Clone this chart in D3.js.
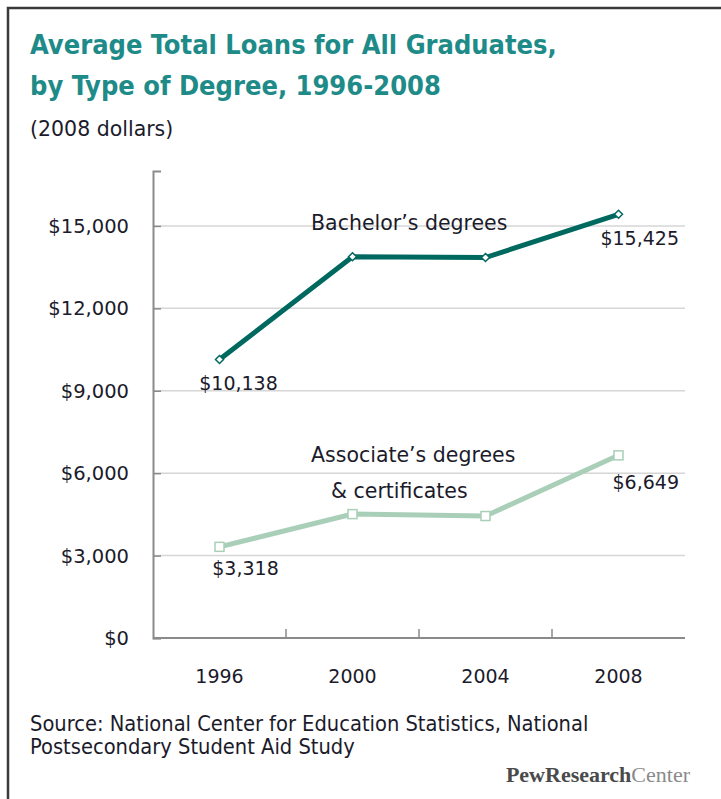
<!DOCTYPE html>
<html>
<head>
<meta charset="utf-8">
<script src="https://cdn.jsdelivr.net/npm/d3@7"></script>
<style>
  body { margin: 0; background: #fff; }
  svg { display: block; }
</style>
</head>
<body>
<div id="chart"></div>
<script>
// data
const years = ["1996", "2000", "2004", "2008"]
const bachelor = [10138, 13880, 13850, 15425]
const associate = [3318, 4510, 4440, 6649]
const yTicks = [0, 3000, 6000, 9000, 12000, 15000]
const titleLines = ["Average Total Loans for All Graduates,", "by Type of Degree, 1996-2008"]
const sourceLines = ["Source: National Center for Education Statistics, National", "Postsecondary Student Aid Study"]

const width = 721, height = 799
const svg = d3.select("#chart").append("svg")
    .attr("width", width)
    .attr("height", height)

const narrow = "'DejaVu Sans Condensed', 'Liberation Sans', sans-serif"
const body = "'DejaVu Sans', 'Noto Sans', sans-serif"
const ink = "#1b1b2b"

// frame (only top and left edges show)
svg.append("path")
    .attr("d", `M8,${height} L8,8 L${width},8`)
    .attr("fill", "none")
    .attr("stroke", "#3a3a3a")
    .attr("stroke-width", 2.5)

// title
svg.append("g").selectAll("text")
    .data(titleLines)
    .enter().append("text")
    .attr("x", 30)
    .attr("y", (d, i) => 54 + i * 41)
    .attr("fill", "#1e8b89")
    .attr("font-family", narrow)
    .attr("font-weight", "bold")
    .attr("font-size", 27)
    .text(d => d)

svg.append("text")
    .attr("x", 30).attr("y", 136)
    .attr("fill", ink)
    .attr("font-family", body)
    .attr("font-size", 20.5)
    .text("(2008 dollars)")

// scales
const x = d3.scaleBand().domain(years).range([153, 685])
const y = d3.scaleLinear().domain([0, 17000]).range([638, 171])
const cx = d => x(d) + x.bandwidth() / 2

// grid lines
svg.append("g").selectAll("line")
    .data(yTicks.filter(d => d > 0))
    .enter().append("line")
    .attr("x1", 153).attr("x2", 685)
    .attr("y1", d => y(d)).attr("y2", d => y(d))
    .attr("stroke", "#d6d6d6")
    .attr("stroke-width", 1.5)

// y axis
const yAxis = svg.append("g")
    .attr("transform", "translate(153,0)")
    .call(d3.axisRight(y).tickValues(yTicks).tickSize(8).tickFormat(""))
yAxis.select(".domain").attr("stroke", "#8a8a8a").attr("stroke-width", 2)
yAxis.selectAll(".tick line").attr("stroke", "#8a8a8a").attr("stroke-width", 1.5)

svg.append("g").selectAll("text")
    .data(yTicks)
    .enter().append("text")
    .attr("x", 129)
    .attr("y", d => y(d) + 7)
    .attr("text-anchor", "end")
    .attr("fill", ink)
    .attr("font-family", body)
    .attr("font-size", 19.5)
    .text(d => "$" + d3.format(",")(d))

// x axis
svg.append("line")
    .attr("x1", 153).attr("x2", 685)
    .attr("y1", y(0)).attr("y2", y(0))
    .attr("stroke", "#8a8a8a")
    .attr("stroke-width", 2)
svg.append("g").selectAll("line")
    .data(years.slice(1))
    .enter().append("line")
    .attr("x1", d => x(d)).attr("x2", d => x(d))
    .attr("y1", y(0)).attr("y2", y(0) - 9)
    .attr("stroke", "#8a8a8a")
    .attr("stroke-width", 1.5)

svg.append("g").selectAll("text")
    .data(years)
    .enter().append("text")
    .attr("x", d => cx(d))
    .attr("y", 683)
    .attr("text-anchor", "middle")
    .attr("fill", ink)
    .attr("font-family", body)
    .attr("font-size", 19)
    .text(d => d)

// lines
const line = d3.line()
    .x((d, i) => cx(years[i]))
    .y(d => y(d))

svg.append("path")
    .datum(associate)
    .attr("d", line)
    .attr("fill", "none")
    .attr("stroke", "#a9cfb9")
    .attr("stroke-width", 5)

svg.append("path")
    .datum(bachelor)
    .attr("d", line)
    .attr("fill", "none")
    .attr("stroke", "#00695f")
    .attr("stroke-width", 5)

// markers
svg.append("g").selectAll("rect")
    .data(associate)
    .enter().append("rect")
    .attr("x", (d, i) => cx(years[i]) - 4.5)
    .attr("y", d => y(d) - 4.5)
    .attr("width", 9).attr("height", 9)
    .attr("fill", "#fff")
    .attr("stroke", "#a9cfb9")
    .attr("stroke-width", 1.5)

svg.append("g").selectAll("path")
    .data(bachelor)
    .enter().append("path")
    .attr("transform", (d, i) => `translate(${cx(years[i])},${y(d)})`)
    .attr("d", "M0,-4 L4,0 L0,4 L-4,0 Z")
    .attr("fill", "#fff")
    .attr("stroke", "#00695f")
    .attr("stroke-width", 1.5)

// value labels
const fmt = d => "$" + d3.format(",")(d)
const valueLabel = (v, xx, yy, anchor) => svg.append("text")
    .attr("x", xx).attr("y", yy)
    .attr("text-anchor", anchor)
    .attr("fill", ink)
    .attr("font-family", body)
    .attr("font-size", 19)
    .text(fmt(v))

valueLabel(bachelor[0], cx(years[0]) + 19, y(bachelor[0]) + 30, "middle")
valueLabel(associate[0], cx(years[0]) + 26, y(associate[0]) + 28, "middle")
valueLabel(bachelor[3], 679, y(bachelor[3]) + 31, "end")
valueLabel(associate[3], 679, y(associate[3]) + 34, "end")

// series labels
const seriesLabel = (t, xx, yy) => svg.append("text")
    .attr("x", xx).attr("y", yy)
    .attr("fill", ink)
    .attr("font-family", body)
    .attr("font-size", 20.5)
    .text(t)

seriesLabel("Bachelor\u2019s degrees", 311, 230)
seriesLabel("Associate\u2019s degrees", 311, 462)
seriesLabel("& certificates", 331, 498)

// source
svg.append("g").selectAll("text")
    .data(sourceLines)
    .enter().append("text")
    .attr("x", 30)
    .attr("y", (d, i) => 731 + i * 23)
    .attr("fill", ink)
    .attr("font-family", narrow)
    .attr("font-size", 21.7)
    .text(d => d)

const pew = svg.append("text")
    .attr("x", 690).attr("y", 782)
    .attr("text-anchor", "end")
    .attr("font-family", "'Liberation Serif', 'DejaVu Serif', serif")
    .attr("font-size", 22)
    .attr("letter-spacing", 0)
pew.append("tspan").attr("font-weight", "bold").attr("fill", "#4a4a4a").text("PewResearch")
pew.append("tspan").attr("fill", "#8a8a8a").text("Center")
</script>
</body>
</html>
